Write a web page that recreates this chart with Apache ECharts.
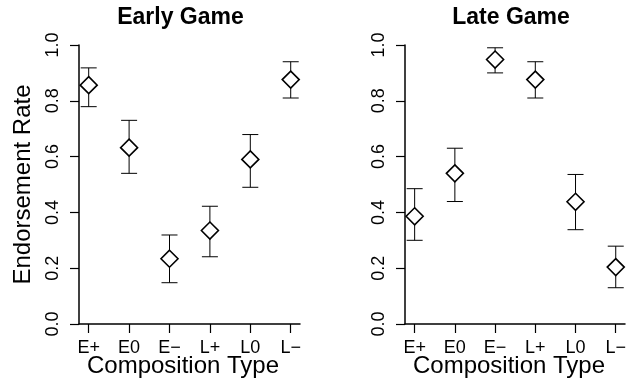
<!DOCTYPE html>
<html>
<head>
<meta charset="utf-8">
<script src="https://cdn.jsdelivr.net/npm/echarts@6/dist/echarts.min.js"></script>
<style>html,body{margin:0;padding:0;background:#fff}#c{width:634px;height:382px}</style>
</head>
<body>
<div id="c"></div>
<script>
const categories = ['E+', 'E0', 'E\u2212', 'L+', 'L0', 'L\u2212'];
const catPos = [1, 2, 3, 4, 5, 6];
const yTicks = [0, 0.2, 0.4, 0.6, 0.8, 1.0];

const earlyMean  = [0.856, 0.632, 0.234, 0.335, 0.590, 0.876];
const earlyLower = [0.779, 0.540, 0.148, 0.241, 0.490, 0.810];
const earlyUpper = [0.918, 0.730, 0.319, 0.422, 0.679, 0.940];

const lateMean  = [0.386, 0.540, 0.948, 0.876, 0.438, 0.204];
const lateLower = [0.300, 0.439, 0.900, 0.810, 0.338, 0.130];
const lateUpper = [0.485, 0.630, 0.990, 0.940, 0.536, 0.279];

const FONT = '"Liberation Sans", Arial, Helvetica, sans-serif';

const chart = echarts.init(document.getElementById('c'), null, {renderer: 'canvas'});

function xAxisDef(gi) {
  return {
    type: 'value', gridIndex: gi, min: 0.76, max: 6.23,
    splitLine: {show: false},
    axisLine: {show: true, onZero: false, lineStyle: {color: '#000', width: 1.5}},
    axisTick: {show: true, customValues: catPos, length: 9, lineStyle: {color: '#000', width: 1.2}},
    axisLabel: {
      customValues: catPos, margin: 15, color: '#000', fontSize: 18, fontFamily: FONT,
      formatter: v => categories[Math.round(v) - 1] || ''
    }
  };
}
function yAxisDef(gi) {
  return {
    type: 'value', gridIndex: gi, min: yTicks[0], max: yTicks[yTicks.length - 1], interval: 0.2,
    splitLine: {show: false},
    axisLine: {show: true, onZero: false, lineStyle: {color: '#000', width: 1.5}},
    axisTick: {show: true, length: 9, lineStyle: {color: '#000', width: 1.2}},
    axisLabel: {
      rotate: 90, margin: 17, color: '#000', fontSize: 18, fontFamily: FONT,
      formatter: v => v.toFixed(1)
    }
  };
}

function errSeries(gi, lower, upper) {
  return {
    type: 'custom', xAxisIndex: gi, yAxisIndex: gi,
    data: catPos.map((x, i) => [x, lower[i], upper[i]]),
    renderItem: (params, api) => {
      const x = api.value(0);
      const lo = api.coord([x, api.value(1)]);
      const hi = api.coord([x, api.value(2)]);
      const w = 8;
      const st = {stroke: '#000', lineWidth: 1};
      return {
        type: 'group',
        children: [
          {type: 'line', shape: {x1: lo[0], y1: lo[1], x2: hi[0], y2: hi[1]}, style: st},
          {type: 'line', shape: {x1: lo[0] - w, y1: lo[1], x2: lo[0] + w, y2: lo[1]}, style: st},
          {type: 'line', shape: {x1: hi[0] - w, y1: hi[1], x2: hi[0] + w, y2: hi[1]}, style: st}
        ]
      };
    },
    z: 2
  };
}
function ptSeries(gi, mean) {
  return {
    type: 'scatter', xAxisIndex: gi, yAxisIndex: gi,
    data: catPos.map((x, i) => [x, mean[i]]),
    symbol: 'diamond', symbolSize: [17, 17],
    itemStyle: {color: '#fff', borderColor: '#000', borderWidth: 1.6, opacity: 1},
    z: 3
  };
}

const option = {
  animation: false,
  backgroundColor: '#fff',
  grid: [
    {left: 79, top: 45, width: 221, height: 279},
    {left: 405, top: 45, width: 220, height: 279}
  ],
  xAxis: [xAxisDef(0), xAxisDef(1)],
  yAxis: [yAxisDef(0), yAxisDef(1)],
  series: [
    errSeries(0, earlyLower, earlyUpper), ptSeries(0, earlyMean),
    errSeries(1, lateLower, lateUpper), ptSeries(1, lateMean)
  ],
  graphic: [
    {type: 'text', x: 180.5, y: 18, style: {text: 'Early Game', font: 'bold 23px ' + FONT, fill: '#000', textAlign: 'center', textVerticalAlign: 'middle'}},
    {type: 'text', x: 511, y: 18, style: {text: 'Late Game', font: 'bold 23px ' + FONT, fill: '#000', textAlign: 'center', textVerticalAlign: 'middle'}},
    {type: 'text', x: 183, y: 366, style: {text: 'Composition Type', font: '24px ' + FONT, fill: '#000', textAlign: 'center', textVerticalAlign: 'middle'}},
    {type: 'text', x: 509, y: 366, style: {text: 'Composition Type', font: '24px ' + FONT, fill: '#000', textAlign: 'center', textVerticalAlign: 'middle'}},
    {type: 'text', x: 23, y: 184.5, rotation: Math.PI / 2, style: {text: 'Endorsement Rate', font: '24px ' + FONT, fill: '#000', textAlign: 'center', textVerticalAlign: 'middle'}}
  ]
};
chart.setOption(option);
</script>
</body>
</html>
